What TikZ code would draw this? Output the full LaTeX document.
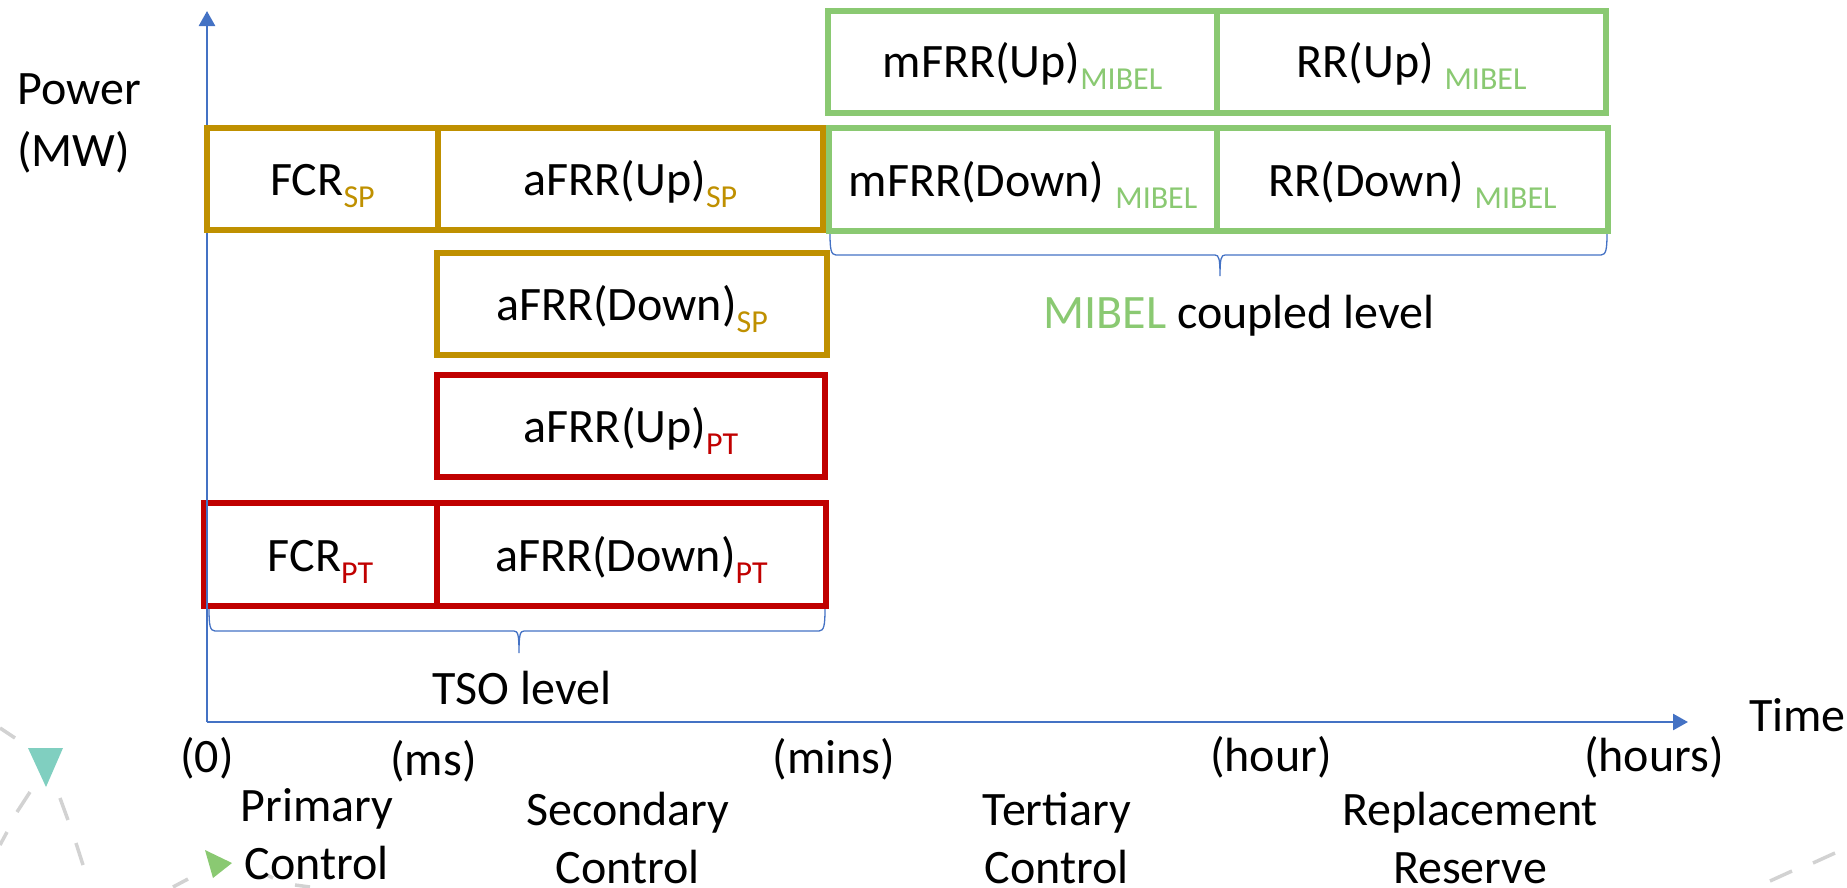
\documentclass[tikz,border=0pt]{standalone}
\usepackage{fontspec}
\setmainfont{Carlito}
\usetikzlibrary{arrows.meta}
\definecolor{goldc}{HTML}{BF9000}
\definecolor{redc}{HTML}{C00000}
\definecolor{greenc}{HTML}{8AC972}
\definecolor{bluec}{HTML}{4472C4}
\definecolor{tealc}{HTML}{80CFC0}
\definecolor{dashc}{HTML}{D2D2D2}
\newcommand{\lowtext}[2]{\raisebox{-12pt}[0pt][0pt]{\fontsize{32}{32}\selectfont\textcolor{#1}{#2}}}
\newcommand{\bracepath}[6]{%
  (#1,-#4) .. controls (#1,-#5+6) and (#1+1,-#5) .. (#1+6,-#5)
  -- (#3-5,-#5) .. controls (#3-1,-#5) and (#3,-#5-4) .. (#3,-#6)
  .. controls (#3,-#5-4) and (#3+1,-#5) .. (#3+5,-#5)
  -- (#2-6,-#5) .. controls (#2-1,-#5) and (#2,-#5+6) .. (#2,-#4)}
\tikzset{
  lbl/.style={font=\fontsize{48}{58}\selectfont, inner sep=0pt, align=center},
  cell/.style={draw, line width=6pt, inner sep=0pt, font=\fontsize{48}{50}\selectfont, anchor=center, text height=37pt, text depth=4pt},
  goldcell/.style={cell, draw=goldc},
  redcell/.style={cell, draw=redc},
  greencell/.style={cell, draw=greenc},
  axisline/.style={draw=bluec, line width=2.6pt, -{Triangle[length=15pt,width=16pt]}},
  bracket/.style={draw=bluec, line width=1.3pt},
  deco/.style={draw=dashc, line width=3.5pt},
}
\begin{document}
\begin{tikzpicture}[x=1pt,y=1pt]
\useasboundingbox (0,0) rectangle (1847,-887);
% decoration
\fill[tealc] (28,-748) -- (63,-748) -- (46,-787) -- cycle;
\fill[greenc] (205,-850) -- (232,-863) -- (213,-878) -- cycle;
\draw[deco] (0,-728) -- (15,-738);
\draw[deco] (30,-792) -- (17,-812);
\draw[deco] (7,-832) -- (0,-845);
\draw[deco] (60,-798) -- (68,-820);
\draw[deco] (76,-843) -- (83,-865);
\draw[deco] (173,-887) -- (188,-879);
\draw[deco] (267,-875) -- (273,-878);
\draw[deco] (295,-885) -- (310,-887);
\draw[deco] (1770,-881) -- (1792,-871);
\draw[deco] (1813,-863) -- (1835,-853);
% boxes
\node[goldcell, minimum width=385pt, minimum height=102pt] (afrrupsp) at (630.5,-179) {aFRR(Up)\lowtext{goldc}{SP}};
\node[goldcell, minimum width=390pt, minimum height=102pt] (afrrdownsp) at (632,-303.5) {aFRR(Down)\lowtext{goldc}{SP}};
\node[redcell, minimum width=388pt, minimum height=102pt] (afrruppt) at (631,-426) {aFRR(Up)\lowtext{redc}{PT}};
\node[redcell, minimum width=233pt, minimum height=103pt] (fcrpt) at (320.5,-554.5) {FCR\lowtext{redc}{PT}};
\node[redcell, minimum width=389pt, minimum height=103pt] (afrrdownpt) at (631.5,-554.5) {aFRR(Down)\lowtext{redc}{PT}};
\node[greencell, minimum width=389pt, minimum height=102pt, text height=34pt] (mfrrup) at (1022.5,-62) {mFRR(Up)\lowtext{greenc}{MIBEL}};
\node[greencell, minimum width=389pt, minimum height=102pt, text height=34pt] (rrup) at (1411.5,-62) {RR(Up) \lowtext{greenc}{MIBEL}};
\node[greencell, minimum width=388pt, minimum height=103pt] (mfrrdown) at (1023,-179.5) {mFRR(Down) \lowtext{greenc}{MIBEL}};
\node[greencell, minimum width=391pt, minimum height=103pt] (rrdown) at (1412.5,-179.5) {RR(Down) \lowtext{greenc}{MIBEL}};
% axes
\coordinate (origin) at (207,-722);
\coordinate (xend) at (1688,-722);
\coordinate (yend) at (207,-11);
\draw[axisline] (origin) -- (xend);
\draw[axisline] (origin) -- (yend);
% this box lies over the axis
\node[goldcell, minimum width=231pt, minimum height=102pt] (fcrsp) at (322.5,-179) {FCR\lowtext{goldc}{SP}};
% braces
\draw[bracket] \bracepath{830}{1607}{1220}{234}{255}{276};
\draw[bracket] \bracepath{209}{825}{519}{609}{631}{653};
% labels
\node[lbl, align=left, anchor=west, font=\fontsize{48}{62}\selectfont] (power) at (17,-123) {Power\\(MW)};
\node[lbl, anchor=west] (time) at (1749,-715) {Time};
\node[lbl] (tso) at (522,-688) {TSO level};
\node[lbl] (mibel) at (1239,-316) {\textcolor{greenc}{MIBEL} coupled level};
\node[lbl] (t0) at (207,-758) {(0)};
\node[lbl] (tms) at (433.5,-761) {(ms)};
\node[lbl] (tmins) at (834,-759) {(mins)};
\node[lbl] (thour) at (1271,-757) {(hour)};
\node[lbl] (thours) at (1654,-757) {(hours)};
\node[lbl] (primary) at (317,-834) {Primary\\Control};
\node[lbl] (secondary) at (628,-838) {Secondary\\Control};
\node[lbl] (tertiary) at (1057,-838) {Tertiary\\Control};
\node[lbl] (replacement) at (1470,-838) {Replacement\\Reserve};
\end{tikzpicture}
\end{document}
